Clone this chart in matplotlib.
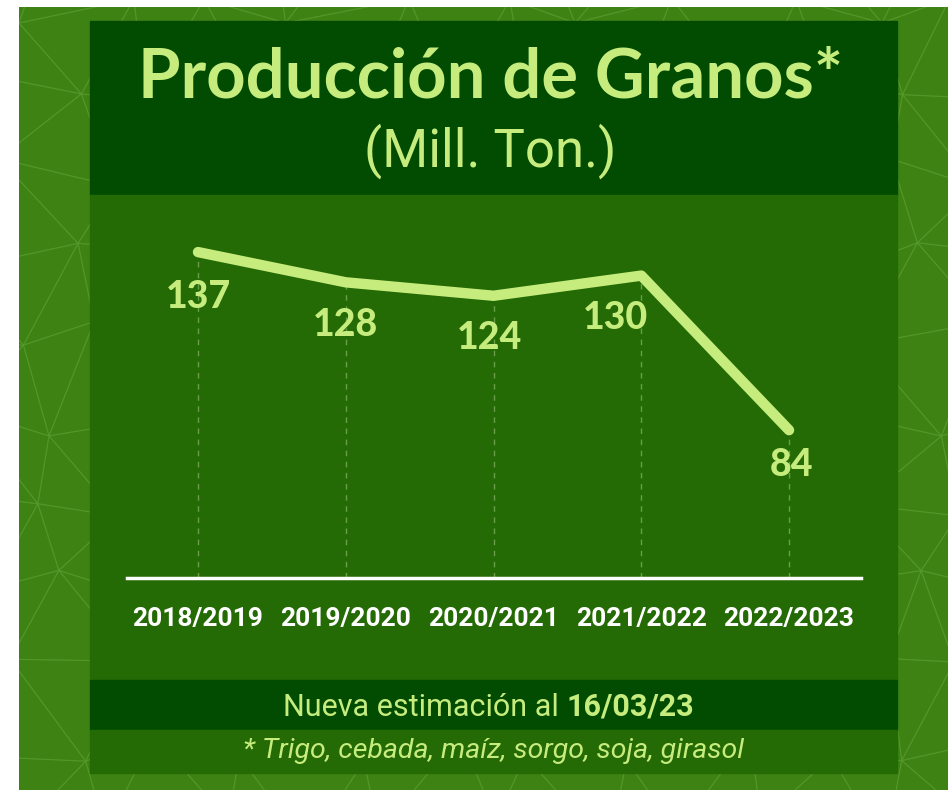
import numpy as np
import matplotlib.pyplot as plt
from matplotlib.patches import Rectangle
from matplotlib.collections import LineCollection

# datos
campanas = ["2018/2019", "2019/2020", "2020/2021", "2021/2022", "2022/2023"]
produccion = [137, 128, 124, 130, 84]

titulo = "Producción de Granos*"
subtitulo = "(Mill. Ton.)"
nota_fecha = "Nueva estimación al "
fecha = "16/03/23"
nota_granos = "* Trigo, cebada, maíz, sorgo, soja, girasol"

# colores
verde_fondo = "#3e8213"
verde_trama = "#5a9b30"
verde_oscuro = "#014c01"
verde_panel = "#246a05"
verde_claro = "#c6ec7e"
verde_guia = "#6a9e4c"

W, H = 948, 790
fig = plt.figure(figsize=(W / 100, H / 100), dpi=100, facecolor="white")


def fx(px):
    return px / W


def fy(py):
    return 1 - py / H


# fondo con trama de triangulos
bg = fig.add_axes([fx(19), 0, 1 - fx(19), fy(7)], zorder=-3)
bg.set_xlim(19, W)
bg.set_ylim(H, 7)
bg.set_axis_off()
bg.add_patch(Rectangle((19, 7), W - 19, H - 7, color=verde_fondo, zorder=0))
s = 95
pts = {}
for i in range(-1, 12):
    for j in range(-1, 11):
        x = 19 + i * s + (j % 2) * s / 2 + 20 * np.sin(1.7 * i + 2.3 * j)
        y = 7 + j * s * 0.87 + 16 * np.cos(2.1 * i - 1.3 * j)
        pts[i, j] = (x, y)
segs = []
for (i, j), p in pts.items():
    vecinos = [(i + 1, j)]
    if j % 2 == 0:
        vecinos += [(i - 1, j + 1), (i, j + 1)]
    else:
        vecinos += [(i, j + 1), (i + 1, j + 1)]
    for v in vecinos:
        if v in pts:
            segs.append([p, pts[v]])
bg.add_collection(LineCollection(segs, colors=verde_trama, linewidths=0.9, alpha=0.8, zorder=1))

# paneles
paneles = [
    (90, 21, 897, 195, verde_oscuro),
    (90, 195, 897, 680, verde_panel),
    (90, 680, 897, 730, verde_oscuro),
    (90, 730, 897, 773, verde_panel),
]
for x0, y0, x1, y1, c in paneles:
    fig.patches.append(Rectangle((fx(x0), fy(y1)), (x1 - x0) / W, (y1 - y0) / H,
                                 transform=fig.transFigure, color=c, zorder=-2))

# grafico
ax = fig.add_axes([fx(127), fy(578), (861 - 127) / W, (578 - 200) / H], zorder=1)
ax.patch.set_alpha(0)
x = np.arange(len(campanas))
ax.plot(x, produccion, color=verde_claro, lw=7.5, solid_capstyle="round",
        solid_joinstyle="round", zorder=3)
ax.vlines(x, 40, produccion, colors=verde_guia, lw=1, linestyles=(0, (4, 4)), zorder=2)

desplaz = [(0, -45), (0, -43), (-4, -42), (-26, -42), (2, -35)]
for xi, v, d in zip(x, produccion, desplaz):
    ax.annotate(str(v), (xi, v), xytext=d, textcoords="offset pixels",
                ha="center", va="center", fontsize=27, fontweight="black",
                family="Lato", color=verde_claro, zorder=4)

ax.set_xlim(-0.4805, 4.487)
ax.set_ylim(40, 152.5)
for lado in ["top", "left", "right"]:
    ax.spines[lado].set_visible(False)
ax.spines["bottom"].set_color("white")
ax.spines["bottom"].set_linewidth(2.5)
ax.set_yticks([])
ax.set_xticks(x)
ax.set_xticklabels(campanas, fontsize=19, fontweight="bold", family="Roboto", color="white")
ax.tick_params(axis="x", length=0, pad=21)

# textos
fig.text(fx(491), fy(98), titulo, ha="center", va="baseline", fontsize=49.5,
         fontweight="bold", family="Lato", color=verde_claro)
fig.text(fx(490), fy(167), subtitulo, ha="center", va="baseline", fontsize=38,
         fontweight="normal", family="Roboto", color=verde_claro)

t1 = fig.text(0, fy(716), nota_fecha, ha="left", va="baseline", fontsize=22,
              family="Roboto", color=verde_claro)
t2 = fig.text(0, fy(716), fecha, ha="left", va="baseline", fontsize=22,
              fontweight="bold", family="Roboto", color=verde_claro)
r = fig.canvas.get_renderer()
w1 = t1.get_window_extent(r).width
w2 = t2.get_window_extent(r).width
x0 = 489 - (w1 + w2) / 2
t1.set_x(fx(x0))
t2.set_x(fx(x0 + w1))

fig.text(fx(494), fy(758), nota_granos, ha="center", va="baseline", fontsize=20.5,
         style="italic", family="Roboto", color=verde_claro)

fig.savefig("out.png", dpi=100, facecolor="white")
